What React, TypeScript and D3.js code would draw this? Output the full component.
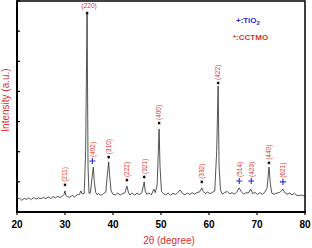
import React from "react";
import * as d3 from "d3";

const twoTheta = [
  20.0, 20.5, 21.0, 21.5, 22.0, 22.5, 23.0, 23.5, 24.0, 24.5, 25.0, 25.5, 26.0, 26.5, 27.0, 27.5,
  28.0, 28.5, 29.0, 29.5, 29.8, 30.0, 30.2, 30.5, 31.0, 31.5, 32.0, 32.5, 33.0, 33.3, 33.6, 34.0,
  34.3, 34.6, 34.8, 35.0, 35.3, 35.6, 35.9, 36.1, 36.4, 36.7, 37.0, 37.5, 38.0, 38.5, 38.8, 39.1,
  39.3, 39.6, 40.0, 40.5, 41.0, 41.5, 42.0, 42.5, 42.9, 43.2, 43.5, 44.0, 44.5, 45.0, 45.5, 46.0,
  46.3, 46.5, 46.7, 47.0, 47.5, 48.0, 48.5, 48.8, 49.2, 49.6, 49.8, 50.1, 50.5, 51.0, 51.5, 52.0,
  52.5, 53.0, 53.5, 54.0, 54.5, 55.0, 55.5, 56.0, 56.5, 57.0, 57.5, 58.0, 58.5, 58.8, 59.2, 59.7,
  60.2, 60.7, 61.2, 61.6, 61.9, 62.1, 62.4, 62.8, 63.3, 63.8, 64.3, 64.8, 65.3, 65.8, 66.3, 66.7,
  67.2, 67.7, 68.2, 68.7, 69.1, 69.6, 70.1, 70.6, 71.1, 71.6, 72.1, 72.5, 72.8, 73.1, 73.6, 74.1,
  74.6, 75.1, 75.4, 75.8, 76.3, 76.8, 77.3, 77.8, 78.3, 78.8, 79.3, 80.0,
];
const intensity = [
  42, 46, 39, 45, 42, 47, 41, 48, 43, 47, 44, 49, 44, 50, 45, 51,
  47, 52, 48, 53, 58, 70, 55, 51, 49, 55, 50, 57, 58, 70, 60, 62,
  200, 660, 150, 62, 64, 110, 149, 100, 65, 57, 61, 55, 61, 66, 120, 166,
  120, 70, 59, 57, 63, 56, 61, 64, 86, 66, 57, 63, 56, 62, 58, 64,
  85, 100, 70, 59, 63, 57, 76, 64, 90, 275, 150, 68, 61, 57, 63, 56,
  62, 58, 64, 73, 61, 57, 63, 58, 64, 59, 65, 66, 80, 68, 61, 66,
  61, 65, 70, 200, 418, 150, 72, 59, 65, 68, 60, 64, 59, 67, 80, 68,
  59, 64, 63, 76, 61, 65, 58, 64, 59, 65, 80, 149, 90, 62, 59, 63,
  64, 70, 76, 64, 59, 63, 57, 62, 55, 55, 56, 52,
];

const peakPos = [30.0, 34.6, 35.7, 39.1, 42.9, 46.5, 49.6, 58.5, 61.9, 66.3, 68.8, 72.5, 75.4];
const peakMark = [90, 660, 169, 182, 106, 116, 295, 100, 428, 103, 103, 163, 100];
const peakKind = ["s", "s", "p", "s", "s", "s", "s", "s", "s", "p", "p", "s", "p"];
const peakLabel = ["(211)", "(220)", "(402)", "(310)", "(222)", "(321)", "(400)", "(332)", "(422)", "(514)", "(423)", "(440)", "(621)"];

const xTicks = [20, 30, 40, 50, 60, 70, 80];
const yTicks = [0, 100, 200, 300, 400, 500, 600, 700];

const RED = "#d8332f";
const BLUE = "#2a2ad8";

export default function App() {
  const x = d3.scaleLinear().domain([20, 80]).range([17, 305]);
  const y = d3.scaleLinear().domain([0, 700]).range([212, 1]);
  const pts = twoTheta.map((t, i) => [t, intensity[i]] as [number, number]);
  const line = d3.line<[number, number]>().x((d) => x(d[0])).y((d) => y(d[1]))(pts) || "";
  const star = d3.symbol(d3.symbolAsterisk, 6)() || "";
  const plus = d3.symbol(d3.symbolPlus, 14)() || "";
  const font = "Arial, 'Liberation Sans', sans-serif";

  return (
    <svg width={312} height={248} style={{ position: "absolute", left: 0, top: 0 }} fontFamily={font}>
      <rect x={0} y={0} width={312} height={248} fill="#fff" />
      <path d={line} fill="none" stroke="#2a2a2a" strokeWidth={0.8} />
      {peakPos.map((p, i) => {
        const cx = x(p);
        const cy = y(peakMark[i]);
        const isStar = peakKind[i] === "s";
        return (
          <g key={i}>
            <path
              d={isStar ? star : plus}
              transform={`translate(${cx},${cy})`}
              fill="none"
              stroke={isStar ? "#000" : BLUE}
              strokeWidth={isStar ? 1 : 1.1}
            />
            {i === 1 ? (
              <text x={cx + 2} y={cy - 5} fontSize={6.5} fill={RED} textAnchor="middle">
                {peakLabel[i]}
              </text>
            ) : (
              <text
                transform={`translate(${cx + 2.3},${cy - (isStar ? 3 : 4)}) rotate(-90)`}
                fontSize={6.5}
                fill={RED}
                textAnchor="start"
              >
                {peakLabel[i]}
              </text>
            )}
          </g>
        );
      })}
      <rect x={17} y={1} width={288} height={211} fill="none" stroke="#000" strokeWidth={1.5} />
      <line x1={17} y1={0.5} x2={17} y2={213} stroke="#000" strokeWidth={2} />
      <line x1={16} y1={212} x2={306} y2={212} stroke="#000" strokeWidth={2} />
      {yTicks.map((t) => (
        <line key={t} x1={17} x2={20} y1={y(t)} y2={y(t)} stroke="#000" strokeWidth={1.2} />
      ))}
      {xTicks.map((t) => (
        <g key={t}>
          <line x1={x(t)} x2={x(t)} y1={212} y2={215} stroke="#000" strokeWidth={1.2} />
          <text x={x(t)} y={228} fontSize={10} fontWeight="bold" textAnchor="middle" fill="#000">
            {t}
          </text>
        </g>
      ))}
      <text x={169} y={244} fontSize={10} fill={RED} textAnchor="middle">
        2θ (degree)
      </text>
      <text transform="translate(9,100) rotate(-90)" fontSize={10} fill={RED} textAnchor="middle">
        Intensity (a.u.)
      </text>
      <text x={236} y={23} fontSize={8} fontWeight="bold" fill={BLUE}>
        +:TiO<tspan fontSize={6} dy={2}>2</tspan>
      </text>
      <text x={233} y={40} fontSize={8} fontWeight="bold" fill={RED}>
        *:CCTMO
      </text>
    </svg>
  );
}
